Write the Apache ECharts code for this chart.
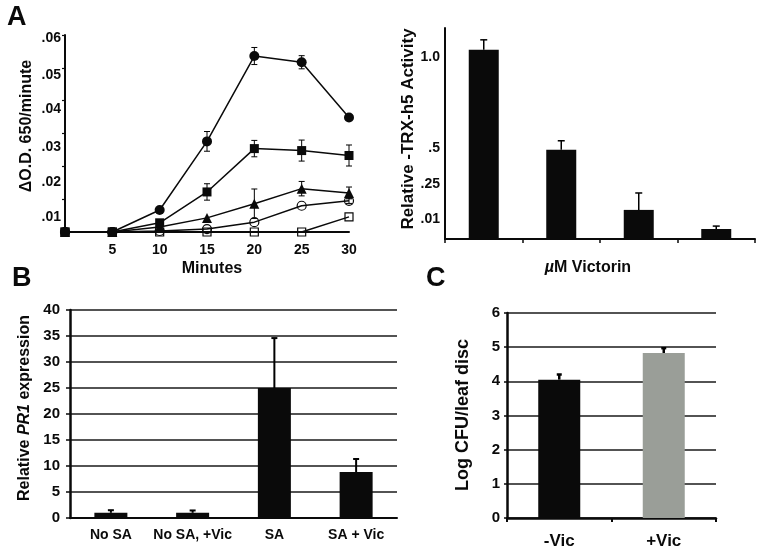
<!DOCTYPE html>
<html><head><meta charset="utf-8">
<script src="https://cdn.jsdelivr.net/npm/echarts@6/dist/echarts.min.js"></script>
<style>html,body{margin:0;padding:0;background:#fff}#c{width:761px;height:553px}</style>
</head><body><div id="c"></div>
<script>
// ---------------- data ----------------
// Panel A (left): ΔO.D. 650/minute vs minutes
const minutes = [0, 5, 10, 15, 20, 25, 30];
const filledCircle    = [0, 0, 0.0067, 0.0276, 0.0536, 0.0517, 0.0349];
const filledCircleErr = [0, 0, 0, 0.0030, 0.0026, 0.0020, 0];
const filledSquare    = [0, 0, 0.0028, 0.0122, 0.0254, 0.0248, 0.0233];
const filledSquareErr = [0, 0, 0, 0.0025, 0.0025, 0.0032, 0.0032];
const filledTriangle    = [0, 0, 0.0015, 0.0043, 0.0086, 0.0132, 0.0119];
const filledTriangleErr = [0, 0, 0, 0, 0.0045, 0.0022, 0.0018];
const openCircle    = [0, 0, 0.0003, 0.0009, 0.0030, 0.0080, 0.0095];
const openCircleErr = [0, 0, 0, 0, 0, 0, 0.0008];
const openSquare    = [0, 0, 0, 0, 0, 0, 0.0046];
const openSquareErr = [0, 0, 0, 0, 0, 0, 0];
const odTickLabels = ['', '.01', '.02', '.03', '.04', '.05', '.06'];
const minuteTickLabels = ['', '5', '10', '15', '20', '25', '30'];

// Panel A (right): Relative TRX-h5 activity
const victorinCats = ['c1', 'c2', 'c3', 'c4'];
const trxValues = [1.04, 0.49, 0.16, 0.055];
const trxErr    = [0.055, 0.05, 0.093, 0.016];
const trxTickValues = [1.0, 0.5, 0.25, 0.01];
const trxTickLabels = ['1.0', '.5', '.25', '.01'];

// Panel B: Relative PR1 expression
const prCats   = ['No SA', 'No SA, +Vic', 'SA', 'SA + Vic'];
const prValues = [1.0, 1.0, 25.0, 8.85];
const prErr    = [0.5, 0.45, 9.6, 2.5];

// Panel C: Log CFU/leaf disc
const cfuCats   = ['-Vic', '+Vic'];
const cfuValues = [4.05, 4.83];
const cfuErr    = [0.15, 0.14];

// ---------------- styles ----------------
const FF = '"Liberation Sans", Arial, Helvetica, sans-serif';
const BLACK = '#0a0a0a';
const GRAY = '#9a9e98';
// visual nudges of tick labels (px, + = down) as in the original figure
const odLabelShift = [0, 18, 16, 14, 8, 7, 3];
const trxLabelShift = [0, 0, -9, -18];

function richFor(shifts, size) {
  const r = {};
  shifts.forEach((s, i) => {
    r['t' + i] = {
      fontFamily: FF, fontWeight: 'bold', fontSize: size, color: BLACK,
      padding: s >= 0 ? [2 * s, 0, 0, 0] : [0, 0, -2 * s, 0]
    };
  });
  return r;
}

function errItem(bothSides, capW, lw) {
  return function (params, api) {
    const x = api.value(0), y = api.value(1), e = api.value(2);
    if (!e) return null;
    const top = api.coord([x, y + e]);
    const bot = api.coord([x, bothSides ? y - e : y]);
    const kids = [
      { type: 'line', shape: { x1: top[0], y1: top[1], x2: bot[0], y2: bot[1] }, style: { stroke: '#000', lineWidth: lw } },
      { type: 'line', shape: { x1: top[0] - capW / 2, y1: top[1], x2: top[0] + capW / 2, y2: top[1] }, style: { stroke: '#000', lineWidth: lw } }
    ];
    if (bothSides) kids.push({ type: 'line', shape: { x1: bot[0] - capW / 2, y1: bot[1], x2: bot[0] + capW / 2, y2: bot[1] }, style: { stroke: '#000', lineWidth: lw } });
    return { type: 'group', children: kids };
  };
}

const axisLineBlack = (w) => ({ show: true, lineStyle: { color: BLACK, width: w } });
const lbl = (size, extra) => Object.assign({ color: BLACK, fontFamily: FF, fontWeight: 'bold', fontSize: size }, extra || {});

// line series for panel A
const lineDefs = [
  { name: 'open square', data: openSquare, err: openSquareErr, symbol: 'rect', size: 8, open: true },
  { name: 'open circle', data: openCircle, err: openCircleErr, symbol: 'circle', size: 9, open: true },
  { name: 'triangle', data: filledTriangle, err: filledTriangleErr, symbol: 'triangle', size: 10, open: false },
  { name: 'circle', data: filledCircle, err: filledCircleErr, symbol: 'circle', size: 10, open: false },
  { name: 'square', data: filledSquare, err: filledSquareErr, symbol: 'rect', size: 9, open: false }
];
const lineSeries = lineDefs.map(d => ({
  type: 'line', name: d.name, xAxisIndex: 0, yAxisIndex: 0,
  data: minutes.map((m, i) => [m, d.data[i]]),
  symbol: d.symbol, symbolSize: d.size, showSymbol: true, z: 3,
  lineStyle: { color: BLACK, width: 1.5 },
  itemStyle: d.open ? { color: 'rgba(255,255,255,0)', borderColor: BLACK, borderWidth: 1.2 } : { color: BLACK, borderWidth: 0 },
  emphasis: { disabled: true }
}));
const lineErrData = [];
lineDefs.forEach(d => minutes.forEach((m, i) => { if (d.err[i]) lineErrData.push([m, d.data[i], d.err[i]]); }));

const option = {
  animation: false,
  backgroundColor: '#fff',
  grid: [
    { left: 65, top: 35, width: 284, height: 197 },
    { left: 445, top: 28, width: 310, height: 211 },
    { left: 70, top: 310, width: 327, height: 208 },
    { left: 507, top: 313, width: 209, height: 205 }
  ],
  xAxis: [
    { gridIndex: 0, type: 'value', min: 0, max: 30, interval: 5,
      axisLine: axisLineBlack(2), axisTick: { show: false }, splitLine: { show: false },
      axisLabel: lbl(14, { margin: 11, formatter: v => minuteTickLabels[Math.round(v / 5)] }) },
    { gridIndex: 1, type: 'category', data: victorinCats,
      axisLine: axisLineBlack(2), axisTick: { show: true, length: 4, lineStyle: { color: BLACK, width: 1.5 } },
      axisLabel: { show: false } },
    { gridIndex: 2, type: 'category', data: prCats,
      axisLine: axisLineBlack(2), axisTick: { show: false },
      axisLabel: lbl(14, { margin: 10, interval: 0 }) },
    { gridIndex: 3, type: 'category', data: cfuCats,
      axisLine: axisLineBlack(2.5), axisTick: { show: true, length: 4, lineStyle: { color: BLACK, width: 2 } },
      axisLabel: lbl(17, { margin: 15 }) }
  ],
  yAxis: [
    { gridIndex: 0, type: 'value', min: 0, max: 0.06, interval: 0.01,
      axisLine: axisLineBlack(2), axisTick: { show: true, length: 3, lineStyle: { color: BLACK, width: 1.2 } },
      splitLine: { show: false },
      axisLabel: lbl(14, { margin: 4, formatter: v => { const i = Math.round(v * 100); return odTickLabels[i] ? '{t' + i + '|' + odTickLabels[i] + '}' : ''; }, rich: richFor(odLabelShift, 14) }) },
    { gridIndex: 1, type: 'value', min: 0, max: 1.16,
      axisLine: axisLineBlack(2), axisTick: { show: false }, splitLine: { show: false },
      axisLabel: lbl(14, { margin: 5, customValues: trxTickValues,
        formatter: v => { const i = trxTickValues.findIndex(t => Math.abs(t - v) < 1e-9); return i < 0 ? '' : '{t' + i + '|' + trxTickLabels[i] + '}'; },
        rich: richFor(trxLabelShift, 14) }) },
    { gridIndex: 2, type: 'value', min: 0, max: 40, interval: 5,
      axisLine: axisLineBlack(2.5), axisTick: { show: true, length: 4, lineStyle: { color: BLACK, width: 1.5 } },
      splitLine: { show: true, lineStyle: { color: '#1a1a1a', width: 1.5 } },
      axisLabel: lbl(15, { margin: 10 }) },
    { gridIndex: 3, type: 'value', min: 0, max: 6, interval: 1,
      axisLine: axisLineBlack(2.5), axisTick: { show: true, length: 3, lineStyle: { color: BLACK, width: 1.5 } },
      splitLine: { show: true, lineStyle: { color: '#1a1a1a', width: 1.5 } },
      axisLabel: lbl(15, { margin: 7 }) }
  ],
  series: [
    { type: 'custom', xAxisIndex: 0, yAxisIndex: 0, z: 2, data: lineErrData, renderItem: errItem(true, 6, 1), encode: { x: 0, y: 1 } },
    ...lineSeries,
    { type: 'bar', xAxisIndex: 1, yAxisIndex: 1, data: trxValues, barWidth: 30, itemStyle: { color: BLACK }, z: 2 },
    { type: 'custom', xAxisIndex: 1, yAxisIndex: 1, z: 3, data: trxValues.map((v, i) => [i, v, trxErr[i]]), renderItem: errItem(false, 7, 1.5), encode: { x: 0, y: 1 } },
    { type: 'bar', xAxisIndex: 2, yAxisIndex: 2, data: prValues, barWidth: 33, itemStyle: { color: BLACK }, z: 2 },
    { type: 'custom', xAxisIndex: 2, yAxisIndex: 2, z: 3, data: prValues.map((v, i) => [i, v, prErr[i]]), renderItem: errItem(false, 6, 2), encode: { x: 0, y: 1 } },
    { type: 'bar', xAxisIndex: 3, yAxisIndex: 3, barWidth: 42, z: 2,
      data: cfuValues.map((v, i) => ({ value: v, itemStyle: { color: i === 0 ? BLACK : GRAY } })) },
    { type: 'custom', xAxisIndex: 3, yAxisIndex: 3, z: 3, data: cfuValues.map((v, i) => [i, v, cfuErr[i]]), renderItem: errItem(false, 5, 2.5), encode: { x: 0, y: 1 } }
  ],
  graphic: [
    { type: 'text', x: 7, y: 18, style: { text: 'A', font: 'bold 27px ' + FF, fill: BLACK, align: 'left', verticalAlign: 'middle', textAlign: 'left', textVerticalAlign: 'middle' } },
    { type: 'text', x: 27, y: 126, rotation: Math.PI / 2, style: { text: 'ΔO.D. 650/minute', font: 'bold 16px ' + FF, fill: BLACK, align: 'center', verticalAlign: 'middle', textAlign: 'center', textVerticalAlign: 'middle' } },
    { type: 'text', x: 212, y: 269, style: { text: 'Minutes', font: 'bold 16px ' + FF, fill: BLACK, align: 'center', verticalAlign: 'middle', textAlign: 'center', textVerticalAlign: 'middle' } },
    { type: 'text', x: 408, y: 129, rotation: Math.PI / 2, style: { text: 'Relative -TRX-h5 Activity', font: 'bold 17px ' + FF, fill: BLACK, align: 'center', verticalAlign: 'middle', textAlign: 'center', textVerticalAlign: 'middle' } },
    { type: 'text', x: 588, y: 268, style: { text: '{i|µ}{n|M Victorin}', fill: BLACK, align: 'center', verticalAlign: 'middle', textAlign: 'center', textVerticalAlign: 'middle',
        rich: { i: { fontFamily: FF, fontWeight: 'bold', fontStyle: 'italic', fontSize: 16, color: BLACK }, n: { fontFamily: FF, fontWeight: 'bold', fontSize: 16, color: BLACK } } } },
    { type: 'text', x: 12, y: 279, style: { text: 'B', font: 'bold 27px ' + FF, fill: BLACK, align: 'left', verticalAlign: 'middle', textAlign: 'left', textVerticalAlign: 'middle' } },
    { type: 'text', x: 25, y: 408, rotation: Math.PI / 2, style: { text: '{n|Relative }{i|PR1}{n| expression}', fill: BLACK, align: 'center', verticalAlign: 'middle', textAlign: 'center', textVerticalAlign: 'middle',
        rich: { i: { fontFamily: FF, fontWeight: 'bold', fontStyle: 'italic', fontSize: 16, color: BLACK }, n: { fontFamily: FF, fontWeight: 'bold', fontSize: 16, color: BLACK } } } },
    { type: 'text', x: 426, y: 279, style: { text: 'C', font: 'bold 27px ' + FF, fill: BLACK, align: 'left', verticalAlign: 'middle', textAlign: 'left', textVerticalAlign: 'middle' } },
    { type: 'text', x: 463, y: 415, rotation: Math.PI / 2, style: { text: 'Log CFU/leaf disc', font: 'bold 18px ' + FF, fill: BLACK, align: 'center', verticalAlign: 'middle', textAlign: 'center', textVerticalAlign: 'middle' } }
  ]
};

const chart = echarts.init(document.getElementById('c'), null, { renderer: 'canvas' });
chart.setOption(option);
</script>
</body></html>
